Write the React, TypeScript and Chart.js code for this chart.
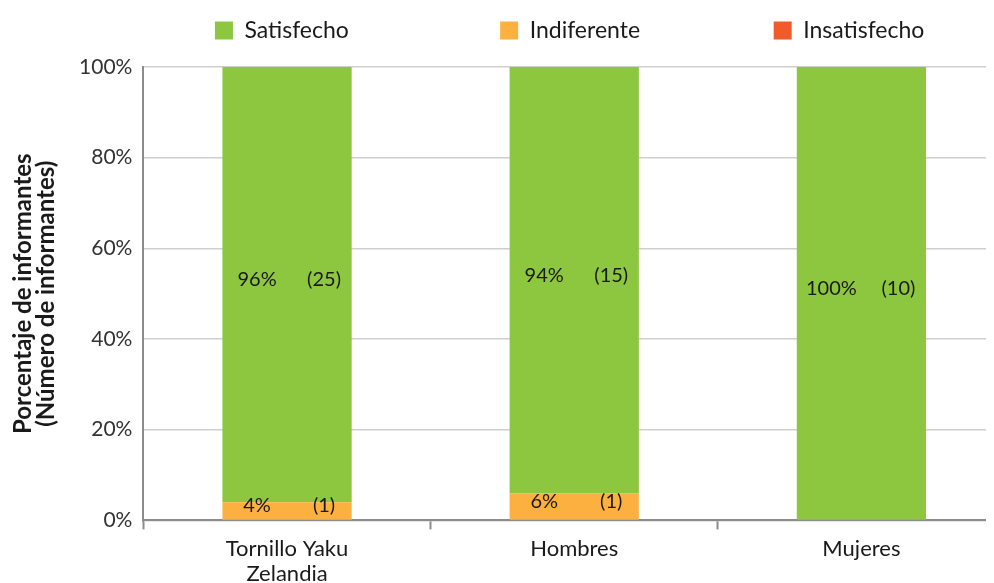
import React, { useEffect, useRef } from "react";
import { Chart, registerables } from "chart.js";
Chart.register(...registerables);

const categories: (string | string[])[] = [["Tornillo Yaku", "Zelandia"], "Hombres", "Mujeres"];
const satisfecho = [96, 94, 100];
const indiferente = [4, 6, 0];
const insatisfecho = [0, 0, 0];
const satisfechoN = [25, 15, 10];
const indiferenteN = [1, 1, 0];
const insatisfechoN = [0, 0, 0];
const yTicks = ["0%", "20%", "40%", "60%", "80%", "100%"];

const GREEN = "#8DC63F";
const ORANGE = "#FBB040";
const RED = "#F15A29";

const labelPlugin = {
  id: "barLabels",
  afterDatasetsDraw(chart: any) {
    const ctx = chart.ctx;
    ctx.save();
    ctx.fillStyle = "#1a1a1a";
    ctx.font = "20px Lato";
    ctx.textBaseline = "middle";
    ctx.textAlign = "center";
    chart.data.datasets.forEach((ds: any, di: number) => {
      const meta = chart.getDatasetMeta(di);
      meta.data.forEach((bar: any, i: number) => {
        const v = ds.data[i];
        if (!v) return;
        const cy = (bar.y + bar.base) / 2 - 5;
        ctx.fillText(v + "%", bar.x - 30, cy);
        ctx.fillText("(" + ds.counts[i] + ")", bar.x + 37, cy);
      });
    });
    ctx.restore();
  },
};

// extra room under the legend
const legendGap = {
  id: "legendGap",
  beforeInit(chart: any) {
    const legend = chart.legend;
    if (!legend) return;
    const orig = legend.fit;
    legend.fit = function () {
      orig.call(this);
      this.height += 15;
    };
  },
};

const pad = (s: string, n: number) => s + " ".repeat(n);

export default function App() {
  const ref = useRef<HTMLCanvasElement>(null);
  useEffect(() => {
    document.body.style.overflow = "hidden";
    const chart = new Chart(ref.current!, {
      type: "bar",
      data: {
        labels: categories,
        datasets: [
          { label: "Insatisfecho", data: insatisfecho, backgroundColor: RED, counts: insatisfechoN } as any,
          { label: "Indiferente", data: indiferente, backgroundColor: ORANGE, counts: indiferenteN } as any,
          { label: "Satisfecho", data: satisfecho, backgroundColor: GREEN, counts: satisfechoN } as any,
        ],
      },
      options: {
        animation: false,
        responsive: false,
        layout: { padding: { top: 9, right: 7, left: 12, bottom: 0 } },
        datasets: { bar: { barPercentage: 0.45, categoryPercentage: 1 } },
        plugins: {
          tooltip: { enabled: false },
          legend: {
            position: "top",
            align: "end",
            reverse: true,
            labels: {
              boxWidth: 18,
              boxHeight: 18,
              padding: 10,
              color: "#1a1a1a",
              font: { family: "Lato", size: 23 },
              generateLabels: (ch: any) => {
                const base = Chart.defaults.plugins.legend.labels.generateLabels(ch);
                const spaces: Record<string, number> = { Satisfecho: 24, Indiferente: 21, Insatisfecho: 12 };
                return base.map((l: any) => ({ ...l, text: pad(l.text, spaces[l.text] ?? 0) }));
              },
            },
          },
        },
        scales: {
          x: {
            stacked: true,
            grid: {
              offset: true,
              drawOnChartArea: false,
              tickLength: 9,
              tickColor: "#8c8c8c",
              tickWidth: 2,
            },
            border: { color: "#8c8c8c", width: 2 },
            ticks: { color: "#1a1a1a", font: { family: "Lato", size: 22, lineHeight: 1.15 }, padding: 7 },
          },
          y: {
            stacked: true,
            min: 0,
            max: 100,
            ticks: {
              stepSize: 20,
              color: "#333",
              font: { family: "Lato", size: 21 },
              padding: 11,
              callback: (v: any) => yTicks[Math.round(Number(v) / 20)],
            },
            grid: { color: "#cfcfcf", lineWidth: 1.5, drawTicks: false },
            border: { color: "#8c8c8c", width: 2 },
            title: {
              display: true,
              text: ["Porcentaje de informantes", "(Número de informantes)"],
              color: "#1a1a1a",
              font: { family: "Lato", size: 24, weight: "bold", lineHeight: 0.96 },
              padding: { top: 0, bottom: 10 },
            },
          },
        },
      },
      plugins: [legendGap, labelPlugin],
    });
    return () => chart.destroy();
  }, []);
  return (
    <div style={{ margin: "-8px 0 0 -8px", width: 1012, height: 594 }}>
      <canvas ref={ref} width={1012} height={594} />
    </div>
  );
}
